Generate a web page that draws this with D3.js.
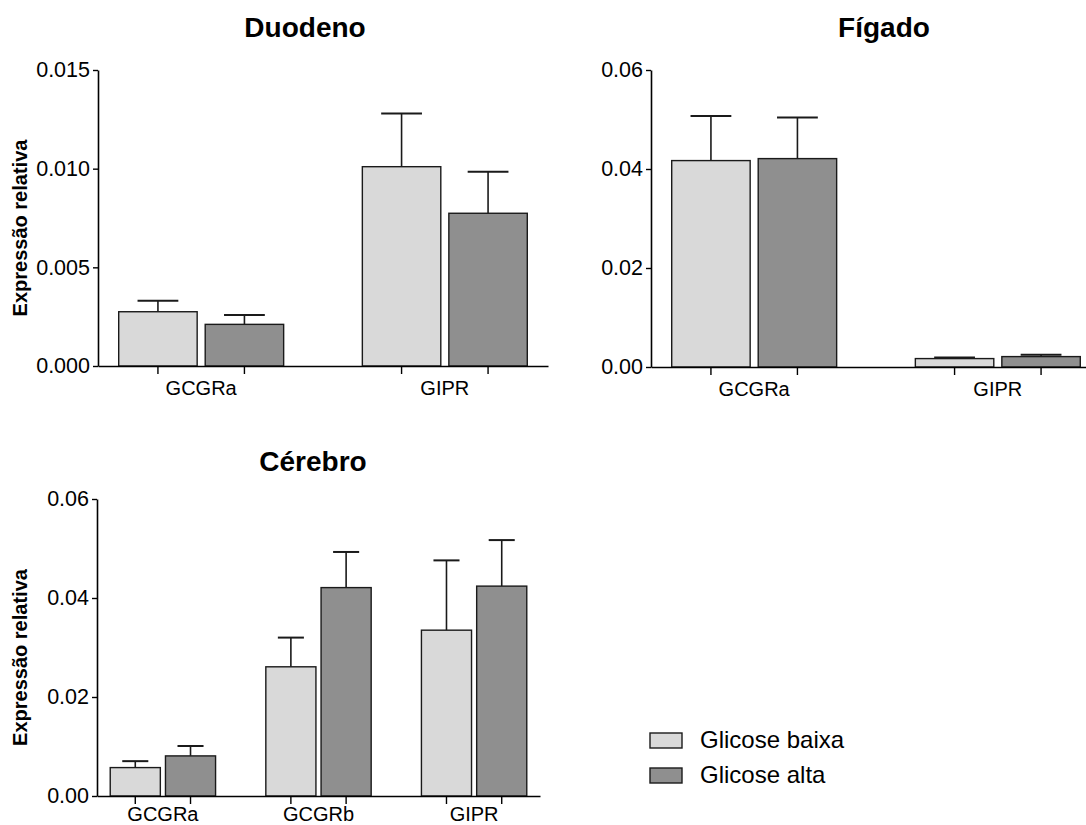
<!DOCTYPE html>
<html>
<head>
<meta charset="utf-8">
<script src="https://cdn.jsdelivr.net/npm/d3@7"></script>
<style>
  body { margin: 0; background: #fff; }
  svg { display: block; font-family: "Liberation Sans", Arial, Helvetica, sans-serif; }
</style>
</head>
<body>
<div id="chart"></div>
<script>
// series (legend order)
var series = ["Glicose baixa", "Glicose alta"];
var seriesColors = ["#d9d9d9", "#8f8f8f"];

// Duodeno
var duodenoGenes = ["GCGRa", "GIPR"];
var duodenoMean = [[0.00275, 0.00211], [0.0101, 0.00774]];
var duodenoErr = [[0.00056, 0.00047], [0.0027, 0.00211]];
var duodenoTicks = [0, 0.005, 0.010, 0.015];

// Fígado
var figadoGenes = ["GCGRa", "GIPR"];
var figadoMean = [[0.0417, 0.0421], [0.0017, 0.0021]];
var figadoErr = [[0.0090, 0.0083], [0.0002, 0.0004]];
var figadoTicks = [0, 0.02, 0.04, 0.06];

// Cérebro
var cerebroGenes = ["GCGRa", "GCGRb", "GIPR"];
var cerebroMean = [[0.00574, 0.0081], [0.0261, 0.0421], [0.0335, 0.0424]];
var cerebroErr = [[0.0013, 0.0020], [0.0059, 0.0072], [0.0141, 0.0093]];
var cerebroTicks = [0, 0.02, 0.04, 0.06];

var svgWidth = 1086;
var svgHeight = 825;

var svg = d3.select('#chart')
  .append('svg')
  .attr('width', svgWidth)
  .attr('height', svgHeight);

var panels = [
  {title: "Duodeno", genes: duodenoGenes, mean: duodenoMean, err: duodenoErr, ticks: duodenoTicks, fmt: ".3f",
   x0: 98, x1: 548, top: 70, bottom: 366, titleX: 305, titleY: 37, ylabel: true, labPad: 15},
  {title: "Fígado", genes: figadoGenes, mean: figadoMean, err: figadoErr, ticks: figadoTicks, fmt: ".2f",
   x0: 651, x1: 1101, top: 70, bottom: 367, titleX: 884, titleY: 37, ylabel: false, labPad: 15},
  {title: "Cérebro", genes: cerebroGenes, mean: cerebroMean, err: cerebroErr, ticks: cerebroTicks, fmt: ".2f",
   x0: 97, x1: 540, top: 499, bottom: 796, titleX: 313, titleY: 471, ylabel: true, labPad: 11}
];

function drawPanel(p) {
  var g = svg.append('g');

  var x = d3.scaleBand()
    .domain(p.genes)
    .range([p.x0, p.x1])
    .paddingInner(0.323)
    .paddingOuter(0.085);
  var xs = d3.scaleBand()
    .domain(d3.range(series.length))
    .range([0, x.bandwidth()])
    .paddingInner(0.093);
  var y = d3.scaleLinear()
    .domain([p.ticks[0], p.ticks[p.ticks.length - 1]])
    .range([p.bottom, p.top]);

  // barras + erro
  var rows = [];
  p.genes.forEach(function (gene, i) {
    series.forEach(function (s, j) {
      rows.push({gene: gene, s: j, v: p.mean[i][j], e: p.err[i][j]});
    });
  });
  var bw = xs.bandwidth();
  var cap = bw * 0.52;

  var eb = g.selectAll('.err').data(rows).enter().append('g')
    .attr('stroke', '#1a1a1a').attr('stroke-width', 1.6);
  eb.append('line')
    .attr('x1', function (d) { return x(d.gene) + xs(d.s) + bw / 2; })
    .attr('x2', function (d) { return x(d.gene) + xs(d.s) + bw / 2; })
    .attr('y1', function (d) { return y(d.v); })
    .attr('y2', function (d) { return y(d.v + d.e); });
  eb.append('line')
    .attr('x1', function (d) { return x(d.gene) + xs(d.s) + bw / 2 - cap / 2; })
    .attr('x2', function (d) { return x(d.gene) + xs(d.s) + bw / 2 + cap / 2; })
    .attr('y1', function (d) { return y(d.v + d.e); })
    .attr('y2', function (d) { return y(d.v + d.e); })
    .attr('stroke-width', 2);

  g.selectAll('.bar').data(rows).enter().append('rect')
    .attr('x', function (d) { return x(d.gene) + xs(d.s); })
    .attr('y', function (d) { return y(d.v); })
    .attr('width', bw)
    .attr('height', function (d) { return y(0) - y(d.v); })
    .attr('fill', function (d) { return seriesColors[d.s]; })
    .attr('stroke', '#1a1a1a')
    .attr('stroke-width', 1.4);

  // eixo y
  var yAxisG = g.append('g')
    .attr('transform', 'translate(' + p.x0 + ',0)')
    .call(d3.axisLeft(y).tickValues(p.ticks).tickFormat(d3.format(p.fmt)).tickSize(5).tickPadding(3).tickSizeOuter(0));
  yAxisG.select('.domain').attr('stroke', '#000').attr('stroke-width', 1.6);
  yAxisG.selectAll('line').attr('stroke-width', 1.4);
  yAxisG.selectAll('text').attr('font-size', '21.5px').attr('fill', '#000')
    .attr('font-family', null);

  // eixo x
  var xAxisG = g.append('g')
    .attr('transform', 'translate(0,' + p.bottom + ')')
    .call(d3.axisBottom(x).tickSize(0).tickPadding(p.labPad).tickSizeOuter(0));
  xAxisG.select('.domain').attr('stroke', '#000').attr('stroke-width', 1.6);
  xAxisG.selectAll('text').attr('font-size', '20px').attr('fill', '#000')
    .attr('font-family', null);
  xAxisG.selectAll('.barTick').data(rows).enter().append('line')
    .attr('x1', function (d) { return x(d.gene) + xs(d.s) + bw / 2; })
    .attr('x2', function (d) { return x(d.gene) + xs(d.s) + bw / 2; })
    .attr('y1', 0).attr('y2', 8)
    .attr('stroke', '#000').attr('stroke-width', 1.4);

  // título
  g.append('text')
    .attr('x', p.titleX).attr('y', p.titleY)
    .attr('text-anchor', 'middle')
    .attr('font-size', '28px').attr('font-weight', 'bold')
    .text(p.title);

  if (p.ylabel) {
    g.append('text')
      .attr('transform', 'translate(27,' + ((p.top + p.bottom) / 2 + 10) + ') rotate(-90)')
      .attr('text-anchor', 'middle')
      .attr('font-size', '20px').attr('font-weight', 'bold')
      .text('Expressão relativa');
  }
}
panels.forEach(drawPanel);

// legenda
var legend = svg.append('g').attr('transform', 'translate(650,733)');
var li = legend.selectAll('g').data(series).enter().append('g')
  .attr('transform', function (d, i) { return 'translate(0,' + (i * 35) + ')'; });
li.append('rect')
  .attr('width', 32).attr('height', 15)
  .attr('fill', function (d, i) { return seriesColors[i]; })
  .attr('stroke', '#1a1a1a').attr('stroke-width', 1.4);
li.append('text')
  .attr('x', 50).attr('y', 15)
  .attr('font-size', '24px')
  .text(function (d) { return d; });
</script>
</body>
</html>
